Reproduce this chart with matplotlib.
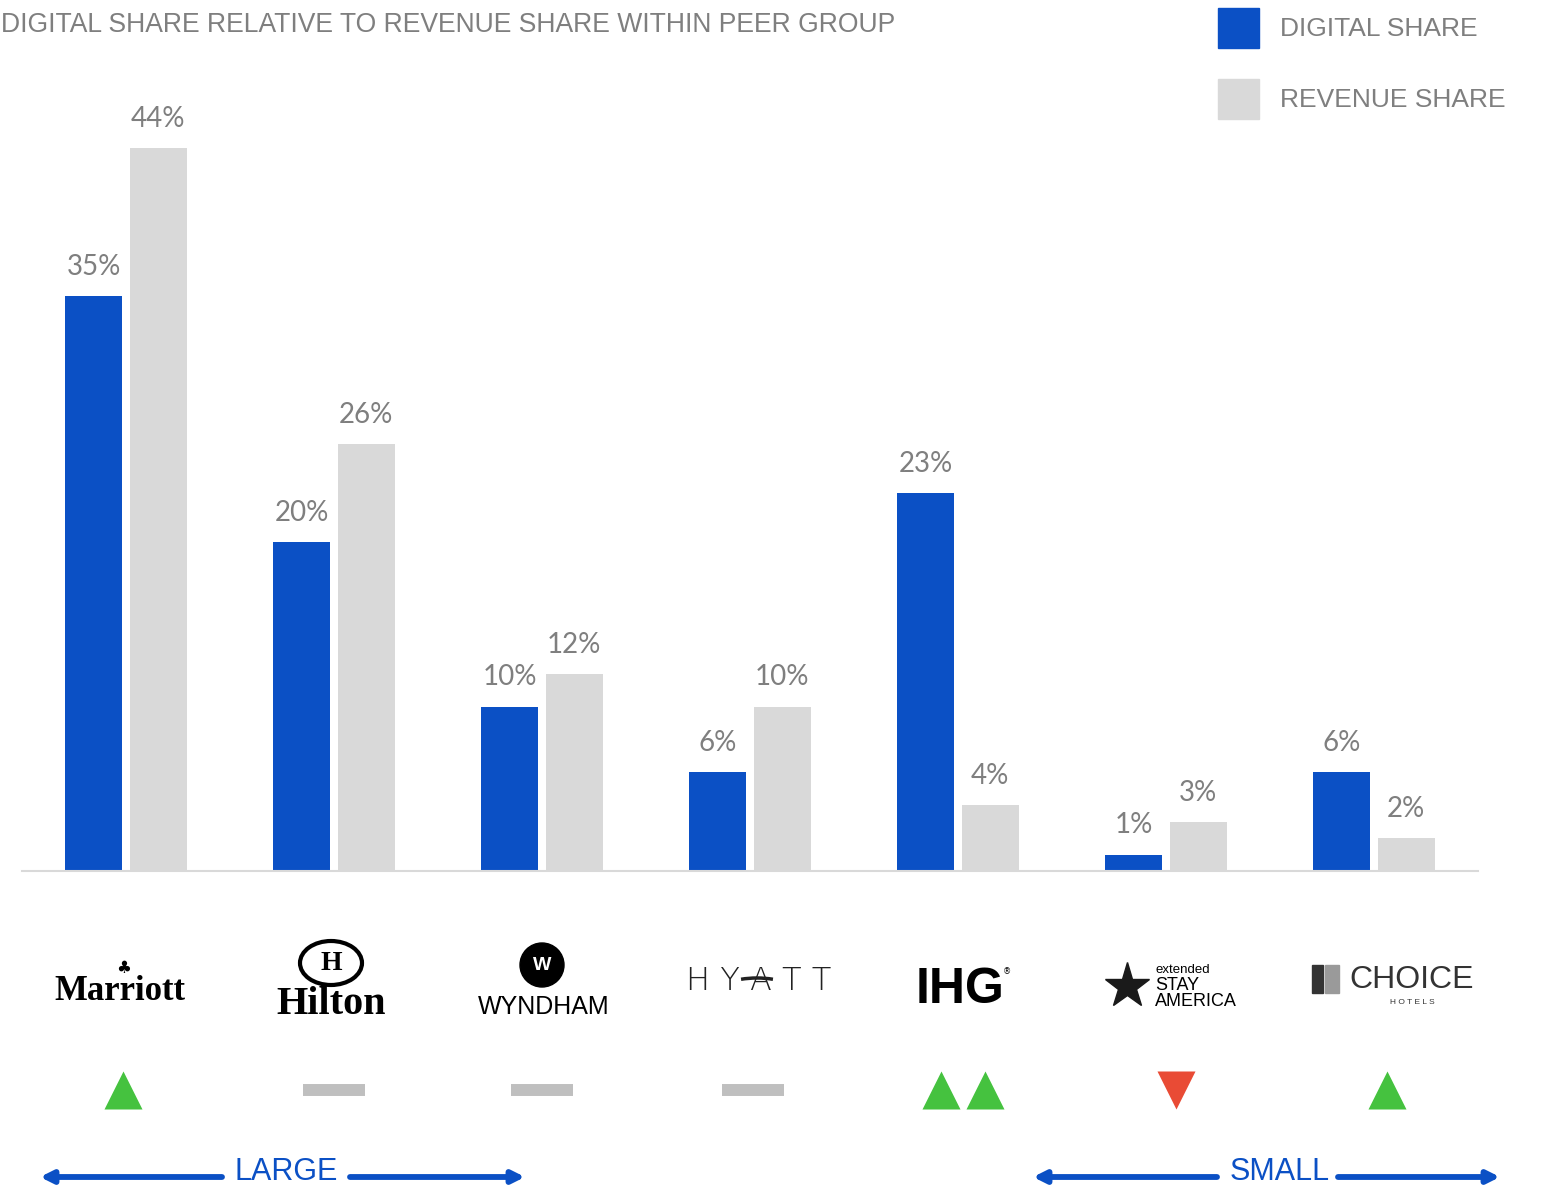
import matplotlib.pyplot as plt
import matplotlib.transforms as mtransforms
from matplotlib.patches import Ellipse, Rectangle, Arc, FancyArrowPatch
import numpy as np

brands = ["Marriott", "Hilton", "Wyndham", "Hyatt", "IHG", "Extended Stay America", "Choice Hotels"]
digital_share = [35, 20, 10, 6, 23, 1, 6]
revenue_share = [44, 26, 12, 10, 4, 3, 2]
trend = ["up", "flat", "flat", "flat", "up2", "down", "up"]

BLUE = "#0b50c5"
GREY = "#d9d9d9"
TEXT = "#7f7f7f"
W, H = 1541, 1185


def fy(py):
    # pixel row from top -> figure fraction
    return 1 - py / H


def fx(px):
    return px / W


fig = plt.figure(figsize=(W / 100, H / 100), dpi=100)
ax = fig.add_axes([fx(22), fy(871), fx(1456), 756 / H])

x = np.arange(len(brands))
bw = 0.274
off = 0.154
ax.bar(x - off, digital_share, bw, color=BLUE)
ax.bar(x + off, revenue_share, bw, color=GREY)

for xi, d, r in zip(x, digital_share, revenue_share):
    for xx, v in ((xi - off, d), (xi + off, r)):
        ax.annotate(f"{v}%", (xx, v), xytext=(0, 21), textcoords="offset points",
                    ha="center", va="center", fontsize=20, color=TEXT, family="Lato")

ax.set_xlim(-0.5, 6.5)
ax.set_ylim(0, 46)
for s in ("top", "right", "left"):
    ax.spines[s].set_visible(False)
ax.spines["bottom"].set_color("#d9d9d9")
ax.spines["bottom"].set_linewidth(1.5)
ax.set_xticks([])
ax.set_yticks([])

# title
fig.text(fx(1), fy(25), "DIGITAL SHARE RELATIVE TO REVENUE SHARE WITHIN PEER GROUP",
         ha="left", va="center", fontsize=19.1, color=TEXT, family="Liberation Sans")

# legend
for py, c, lab in ((28, BLUE, "DIGITAL SHARE"), (99, GREY, "REVENUE SHARE")):
    fig.patches.append(Rectangle((fx(1218), fy(py + 20)), fx(41), 40 / H, color=c,
                                 transform=fig.transFigure, figure=fig))
    fig.text(fx(1280), fy(py + 1), lab, ha="left", va="center", fontsize=19,
             color=TEXT, family="Liberation Sans")

# logos (text approximations)
trans = mtransforms.blended_transform_factory(ax.transData, fig.transFigure)
u = 1 / 208  # data units per pixel


def lx(i, dpx=0):
    return x[i] + dpx * u


ax.text(lx(0, -6), fy(992), "Marriott", transform=trans, ha="center", va="center",
        fontsize=25, weight="bold", family="Liberation Serif", color="black")
ax.text(lx(0, -2), fy(968), "♣", transform=trans, ha="center", va="center",
        fontsize=12, color="black")

ax.add_patch(Ellipse((lx(1, -3), fy(963)), 62 * u, 44 / H, transform=trans, fill=False,
                     lw=3, ec="black", clip_on=False))
ax.text(lx(1, -3), fy(963), "H", transform=trans, ha="center", va="center",
        fontsize=20, weight="bold", family="Liberation Serif", color="black")
ax.text(lx(1, -3), fy(1005), "Hilton", transform=trans, ha="center", va="center",
        fontsize=29, weight="bold", family="Liberation Serif", color="black")

ax.add_patch(Ellipse((lx(2, 0), fy(965)), 44 * u, 44 / H, transform=trans,
                     color="black", clip_on=False))
ax.text(lx(2, 0), fy(966), "W", transform=trans, ha="center", va="center",
        fontsize=14, weight="bold", color="white", family="Liberation Sans")
ax.text(lx(2, 2), fy(1007), "WYNDHAM", transform=trans, ha="center", va="center",
        fontsize=18, family="Liberation Sans", color="black")

ax.text(lx(3, 9), fy(981), "H Y A T T", transform=trans, ha="center", va="center",
        fontsize=23, family="DejaVu Sans", weight="light", color="#222222")
ax.add_patch(Arc((lx(3, 7), fy(1016)), 124 * u, 76 / H, theta1=22, theta2=158,
                 transform=trans, lw=2.5, color="#222222", clip_on=False))

ax.text(lx(4, 2), fy(990), "IHG", transform=trans, ha="center", va="center",
        fontsize=36, weight="heavy", family="Liberation Sans", color="black")
ax.text(lx(4, 49), fy(972), "®", transform=trans, ha="center", va="center",
        fontsize=6, color="black")

ax.plot([lx(5, -39)], [fy(986)], marker="*", ms=34, color="#1a1a1a", transform=trans,
        clip_on=False)
ax.text(lx(5, -11), fy(970), "extended", transform=trans, ha="left", va="center",
        fontsize=9.5, family="Liberation Sans", color="black")
ax.text(lx(5, -11), fy(985), "STAY", transform=trans, ha="left", va="center",
        fontsize=13, family="Liberation Sans", color="black")
ax.text(lx(5, -11), fy(1001), "AMERICA", transform=trans, ha="left", va="center",
        fontsize=13, family="Liberation Sans", color="black")

ax.add_patch(Rectangle((lx(6, -62), fy(993)), 11 * u, 28 / H, transform=trans,
                       color="#333333", clip_on=False))
ax.add_patch(Rectangle((lx(6, -49), fy(993)), 14 * u, 28 / H, transform=trans,
                       color="#9a9a9a", clip_on=False))
ax.text(lx(6, 38), fy(980), "CHOICE", transform=trans, ha="center", va="center",
        fontsize=23, family="Liberation Sans", color="#333333")
ax.text(lx(6, 38), fy(1002), "H O T E L S", transform=trans, ha="center", va="center",
        fontsize=6, family="Liberation Sans", color="#333333")

# trend indicators
ty = fy(1090)
shift = [-3 * u, 0, 0, 3 * u, 5 * u, 10 * u, 13 * u]
for i, t in enumerate(trend):
    cx = x[i] + shift[i]
    if t == "up":
        ax.plot([cx], [ty], marker="^", ms=27, color="#45c23f", mec="none",
                transform=trans, clip_on=False)
    elif t == "up2":
        ax.plot([cx - 0.108, cx + 0.108], [ty, ty], ls="none", marker="^", ms=27,
                color="#45c23f", mec="none", transform=trans, clip_on=False)
    elif t == "down":
        ax.plot([cx], [ty], marker="v", ms=27, color="#e94b35", mec="none",
                transform=trans, clip_on=False)
    else:
        ax.plot([cx - 0.149, cx + 0.149], [ty, ty], lw=8.6, color="#bfbfbf",
                solid_capstyle="butt", transform=trans, clip_on=False)

# size groups
ARROW = "#0b50c5"
ay = fy(1177)


def group_arrow(x0, x1, t0, t1, tc, label):
    kw = dict(arrowstyle="-|>", color=ARROW, lw=4.2, mutation_scale=18,
              shrinkA=0, shrinkB=0)
    fig.add_artist(FancyArrowPatch((fx(t0), ay), (fx(x0), ay),
                                   transform=fig.transFigure, **kw))
    fig.add_artist(FancyArrowPatch((fx(t1), ay), (fx(x1), ay),
                                   transform=fig.transFigure, **kw))
    fig.text(fx(tc), fy(1172), label, ha="center", va="center", fontsize=22,
             color=ARROW, family=["Liberation Sans Narrow", "Liberation Sans"])


group_arrow(40, 525, 222, 350, 286, "LARGE")
group_arrow(1033, 1500, 1217, 1338, 1280, "SMALL")

fig.savefig("out.png", dpi=100)
